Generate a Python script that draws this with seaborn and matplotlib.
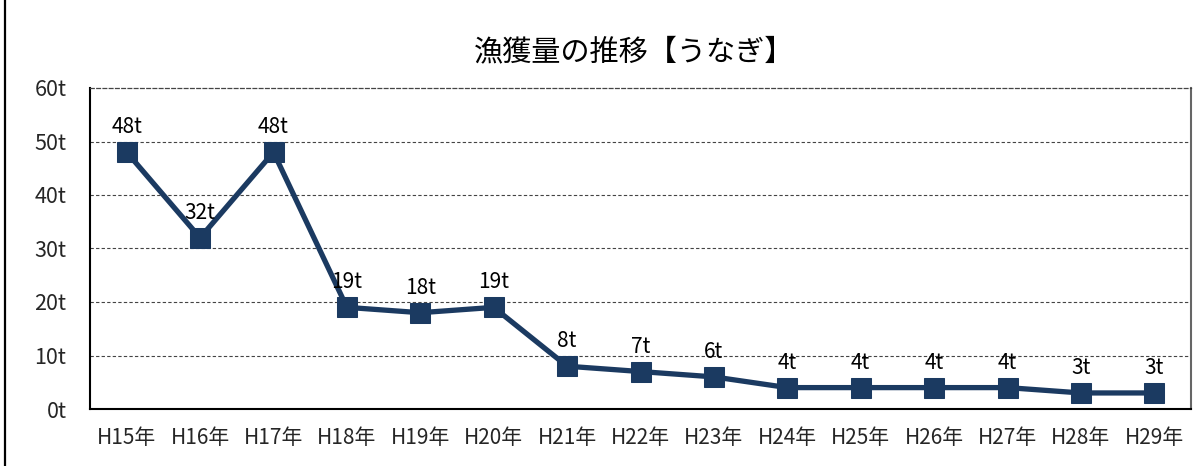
import matplotlib
matplotlib.use("Agg")
import matplotlib.pyplot as plt
import seaborn as sns
import pandas as pd
from matplotlib.patches import Rectangle

# data
years = ["H15年", "H16年", "H17年", "H18年", "H19年", "H20年", "H21年", "H22年",
         "H23年", "H24年", "H25年", "H26年", "H27年", "H28年", "H29年"]
catch_t = [48, 32, 48, 19, 18, 19, 8, 7, 6, 4, 4, 4, 4, 3, 3]
y_ticks = [0, 10, 20, 30, 40, 50, 60]

sns.set_style("white")
plt.rcParams['font.family'] = ['Noto Sans CJK JP', 'DejaVu Sans']

df = pd.DataFrame({"year": years, "catch": catch_t})
navy = "#1b3a61"

fig = plt.figure(figsize=(12.02, 4.66), dpi=100)
ax = fig.add_axes([90 / 1202, 1 - 409 / 466, (1191 - 90) / 1202, (409 - 88) / 466])

sns.lineplot(data=df, x="year", y="catch", sort=False, ax=ax, color=navy,
             linewidth=3.8, marker="s", markersize=15, markeredgecolor=navy)

for i, v in enumerate(catch_t):
    ax.annotate(f"{v}t", (i, v), xytext=(0, 10), textcoords="offset points",
                ha="center", va="bottom", fontsize=15, color="black")

ax.set_xlim(-0.5, len(years) - 0.5)
ax.set_ylim(0, 60)
ax.set_yticks(y_ticks)
ax.set_yticklabels([f"{t}t" for t in y_ticks], fontsize=15.5)
ax.set_xticks(range(len(years)))
ax.set_xticklabels(years, fontsize=15)
ax.set_xticks([i + 0.5 for i in range(len(years) - 1)], minor=True)
ax.tick_params(axis="x", which="major", length=0, pad=13)
ax.tick_params(axis="x", which="minor", length=6, direction="in", color="#555555")
ax.tick_params(axis="y", length=0, pad=17)
ax.set_xlabel("")
ax.set_ylabel("")

for t in y_ticks[1:-1]:
    ax.axhline(t, color="#444444", linestyle=(0, (3, 2)), linewidth=0.8, zorder=0)

ax.spines["top"].set_linestyle((0, (3, 2)))
ax.spines["top"].set_color("#444444")
ax.spines["top"].set_linewidth(0.9)
ax.spines["right"].set_color("#666666")
ax.spines["right"].set_linewidth(1.5)
ax.spines["left"].set_color("black")
ax.spines["left"].set_linewidth(1.5)
ax.spines["bottom"].set_color("black")
ax.spines["bottom"].set_linewidth(1.5)

fig.text(634 / 1202, 1 - 52 / 466, "漁獲量の推移【うなぎ】", ha="center", va="center",
         fontsize=21, color="black")

fig.patches.append(Rectangle((5 / 1202, -0.2), 1.2, 1.2 + (1 - 12 / 466),
                             transform=fig.transFigure, fill=False,
                             edgecolor="black", linewidth=1.6))

fig.savefig("out.png", dpi=100)
